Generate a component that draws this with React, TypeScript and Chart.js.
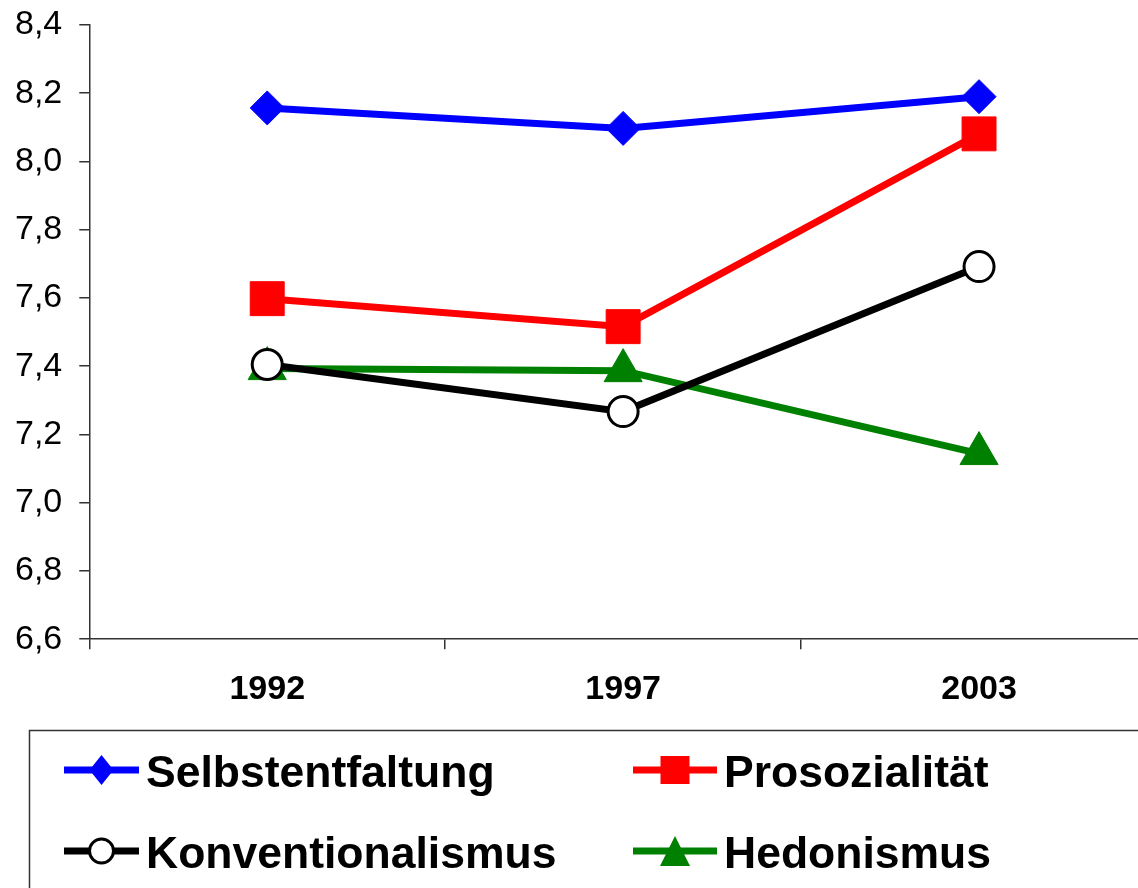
import React, { useEffect, useRef } from "react";
import { Chart, registerables } from "chart.js";

Chart.register(...registerables);

const years = ["1992", "1997", "2003"];
const seriesNames = ["Selbstentfaltung", "Prosozialität", "Konventionalismus", "Hedonismus"];
const selbstentfaltung = [8.157, 8.097, 8.19];
const prosozialitaet = [7.598, 7.516, 8.081];
const konventionalismus = [7.405, 7.267, 7.692];
const hedonismus = [7.393, 7.387, 7.144];
const seriesColors = ["#0000FF", "#FF0000", "#000000", "#008000"];
const yMin = 6.6;
const yMax = 8.4;
const yStep = 0.2;

const FONT = "'Liberation Sans', Arial, Helvetica, sans-serif";

const legendPlugin = {
  id: "boxLegend",
  afterDraw(chart: any) {
    const ctx = chart.ctx as CanvasRenderingContext2D;
    ctx.save();
    ctx.strokeStyle = "#333";
    ctx.lineWidth = 1.5;
    ctx.strokeRect(29.5, 730.5, 2000, 500);
    const cols = [64, 633];
    const rows = [770, 851];
    const lens = [75, 84];
    const order = [
      { i: 0, c: 0, r: 0 },
      { i: 1, c: 1, r: 0 },
      { i: 2, c: 0, r: 1 },
      { i: 3, c: 1, r: 1 },
    ];
    order.forEach(({ i, c, r }) => {
      const x0 = cols[c];
      const len = lens[c];
      const y = rows[r];
      const col = seriesColors[i];
      ctx.strokeStyle = col;
      ctx.lineWidth = 7;
      ctx.beginPath();
      ctx.moveTo(x0, y);
      ctx.lineTo(x0 + len, y);
      ctx.stroke();
      const cx = x0 + len / 2;
      ctx.fillStyle = col;
      ctx.beginPath();
      if (i === 0) {
        ctx.moveTo(cx, y - 15);
        ctx.lineTo(cx + 12, y);
        ctx.lineTo(cx, y + 15);
        ctx.lineTo(cx - 12, y);
        ctx.closePath();
        ctx.fill();
      } else if (i === 1) {
        ctx.rect(cx - 14.5, y - 14, 29, 28);
        ctx.fill();
      } else if (i === 2) {
        ctx.arc(cx, y, 12, 0, Math.PI * 2);
        ctx.fillStyle = "#fff";
        ctx.fill();
        ctx.lineWidth = 3;
        ctx.strokeStyle = col;
        ctx.stroke();
      } else {
        ctx.moveTo(cx, y - 15);
        ctx.lineTo(cx + 15, y + 15);
        ctx.lineTo(cx - 15, y + 15);
        ctx.closePath();
        ctx.fill();
      }
      ctx.fillStyle = "#000";
      ctx.font = `bold 44.5px ${FONT}`;
      ctx.textBaseline = "alphabetic";
      ctx.textAlign = "left";
      ctx.fillText(seriesNames[i], x0 + len + 7, y + 17);
    });
    ctx.restore();
  },
};

export default function App() {
  const ref = useRef<HTMLCanvasElement | null>(null);
  useEffect(() => {
    document.body.style.margin = "0";
    document.documentElement.style.overflow = "hidden";
    const canvas = ref.current;
    if (!canvas) return;
    const chart = new Chart(canvas, {
      type: "line",
      data: {
        labels: years,
        datasets: [
          {
            label: seriesNames[0],
            data: selbstentfaltung,
            borderColor: seriesColors[0],
            backgroundColor: seriesColors[0],
            borderWidth: 7,
            pointStyle: "rectRot",
            pointRadius: 17,
            pointBorderWidth: 1,
            pointBackgroundColor: seriesColors[0],
          },
          {
            label: seriesNames[1],
            data: prosozialitaet,
            borderColor: seriesColors[1],
            backgroundColor: seriesColors[1],
            borderWidth: 7,
            pointStyle: "rect",
            pointRadius: 24,
            pointBorderWidth: 1,
            pointBackgroundColor: seriesColors[1],
          },
          {
            label: seriesNames[2],
            data: konventionalismus,
            borderColor: seriesColors[2],
            backgroundColor: "#fff",
            borderWidth: 7,
            pointStyle: "circle",
            pointRadius: 15,
            pointBorderWidth: 3,
            pointBackgroundColor: "#fff",
          },
          {
            label: seriesNames[3],
            data: hedonismus,
            borderColor: seriesColors[3],
            backgroundColor: seriesColors[3],
            borderWidth: 7,
            pointStyle: "triangle",
            pointRadius: 22,
            pointBorderWidth: 1,
            pointBackgroundColor: seriesColors[3],
          },
        ],
      },
      options: {
        animation: false,
        responsive: false,
        maintainAspectRatio: false,
        layout: { padding: { left: -2, top: 23, right: 4, bottom: 158 } },
        plugins: { legend: { display: false }, tooltip: { enabled: false } },
        scales: {
          x: {
            type: "category",
            offset: true,
            grid: {
              offset: true,
              drawOnChartArea: false,
              drawTicks: true,
              tickLength: 10,
              color: "#333",
              lineWidth: 1.5,
            },
            border: { display: true, color: "#333", width: 1.5 },
            ticks: {
              color: "#000",
              padding: 20,
              font: { family: FONT, size: 34, weight: "bold" },
              maxRotation: 0,
            },
          },
          y: {
            min: yMin,
            max: yMax,
            afterFit: (scale: any) => {
              scale.paddingTop = 0;
              scale.paddingBottom = 0;
            },
            grid: {
              drawOnChartArea: false,
              drawTicks: true,
              tickLength: 10,
              color: "#333",
              lineWidth: 1.5,
            },
            border: { display: true, color: "#333", width: 1.5 },
            ticks: {
              stepSize: yStep,
              color: "#000",
              padding: 17,
              font: { family: FONT, size: 34 },
              callback: (v: any) => Number(v).toFixed(1).replace(".", ","),
            },
          },
        },
      },
      plugins: [legendPlugin],
    });
    return () => chart.destroy();
  }, []);
  return (
    <div style={{ width: 1138, height: 888, overflow: "hidden", position: "relative" }}>
      <canvas ref={ref} width={1182} height={888} style={{ position: "absolute", left: 0, top: 0, width: 1182, height: 888 }} />
    </div>
  );
}
